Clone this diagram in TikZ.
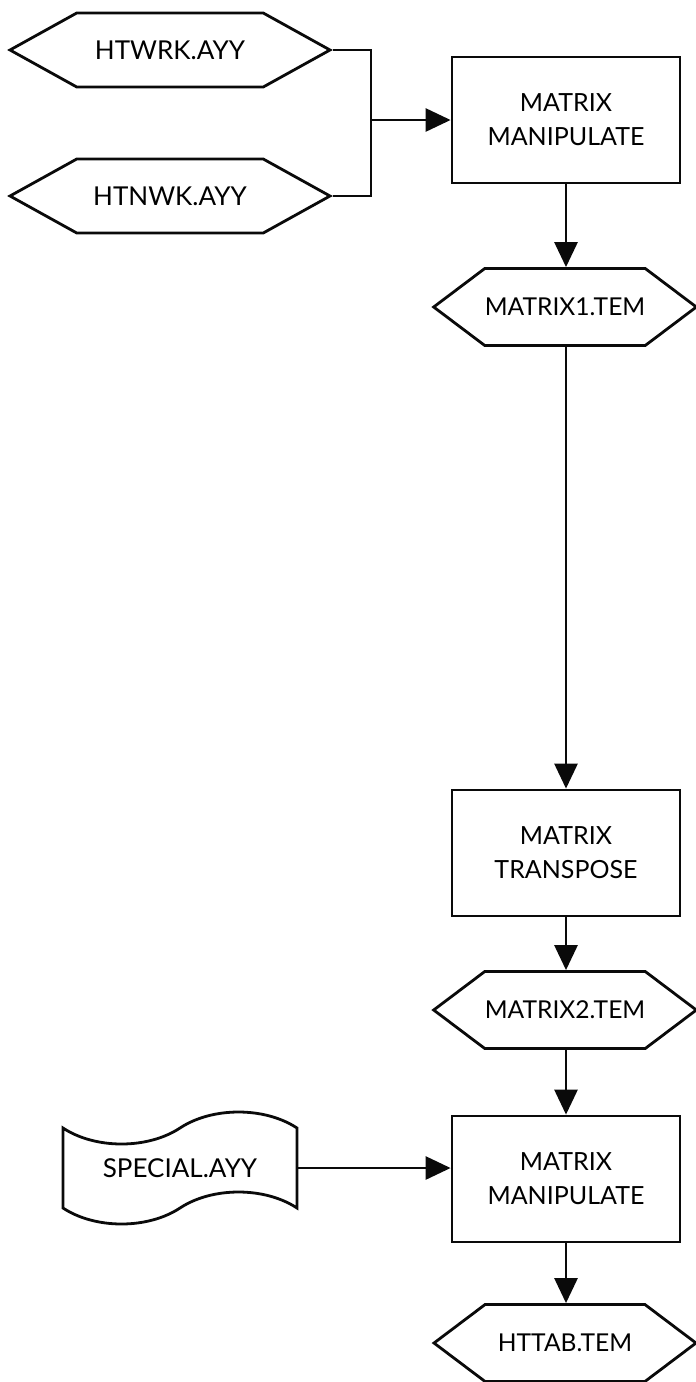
\documentclass[tikz,border=0pt]{standalone}
\usepackage{fontspec}
\setmainfont{Lato}
\usepackage{tikz}
\usetikzlibrary{shapes.symbols, arrows.meta, positioning}
\definecolor{myink}{RGB}{10,10,10}
\tikzset{
  filehex/.style={signal, signal to=west and east, draw=myink,
    minimum width=160pt, minimum height=37pt, signal pointer angle=58,
    font=\fontsize{13}{16}\selectfont, inner sep=0pt, line width=1.4pt},
  temphex/.style={filehex, minimum width=131pt, minimum height=38.5pt,
    signal pointer angle=74, font=\fontsize{12.3}{15}\selectfont},
  procbox/.style={rectangle, draw=myink, minimum width=114pt,
    minimum height=63pt, align=center, font=\fontsize{12.5}{17}\selectfont,
    line width=1.4pt},
  tapefile/.style={tape, draw=myink, minimum width=117pt, minimum height=56pt,
    tape bend height=16pt, font=\fontsize{13}{16}\selectfont,
    line width=1.4pt},
  arrow/.style={-{Triangle[length=12.5pt, width=11.5pt]}, line width=1.4pt, color=myink},
  line/.style={line width=1.4pt, color=myink}
}

\begin{document}
\begin{tikzpicture}[x=0.5pt, y=-0.5pt]
  \useasboundingbox (0,0) rectangle (696,1382);
  % inputs
  \node[filehex] (htwrk) at (170,50) {HTWRK.AYY};
  \node[filehex] (htnwk) at (170,196) {HTNWK.AYY};
  \coordinate (jn) at (371,120);
  % first manipulate
  \node[procbox] (mm1) at (566,120) {MATRIX\\MANIPULATE};
  \node[temphex] (mx1) at (565,307) {MATRIX1.TEM};
  % transpose
  \node[procbox] (mtr) at (566,853) {MATRIX\\TRANSPOSE};
  \node[temphex] (mx2) at (565,1010) {MATRIX2.TEM};
  % second manipulate
  \node[tapefile] (spec) at (180,1168) {SPECIAL.AYY};
  \node[procbox] (mm2) at (566,1179) {MATRIX\\MANIPULATE};
  \node[temphex] (httab) at (565,1343) {HTTAB.TEM};
  % joining lines
  \draw[line] (htwrk.east) -- (jn |- htwrk.east) -- (jn |- htnwk.east) -- (htnwk.east);
  \draw[arrow] (jn) -- (mm1.west);
  \draw[arrow] (mm1.south) -- (mm1.south |- mx1.north);
  \draw[arrow] (mx1.south -| mtr.north) -- (mtr.north);
  \draw[arrow] (mtr.south) -- (mtr.south |- mx2.north);
  \draw[arrow] (mx2.south -| mm2.north) -- (mm2.north);
  \draw[arrow] (spec.east) -- (mm2.west |- spec.east);
  \draw[arrow] (mm2.south) -- (mm2.south |- httab.north);
\end{tikzpicture}
\end{document}
